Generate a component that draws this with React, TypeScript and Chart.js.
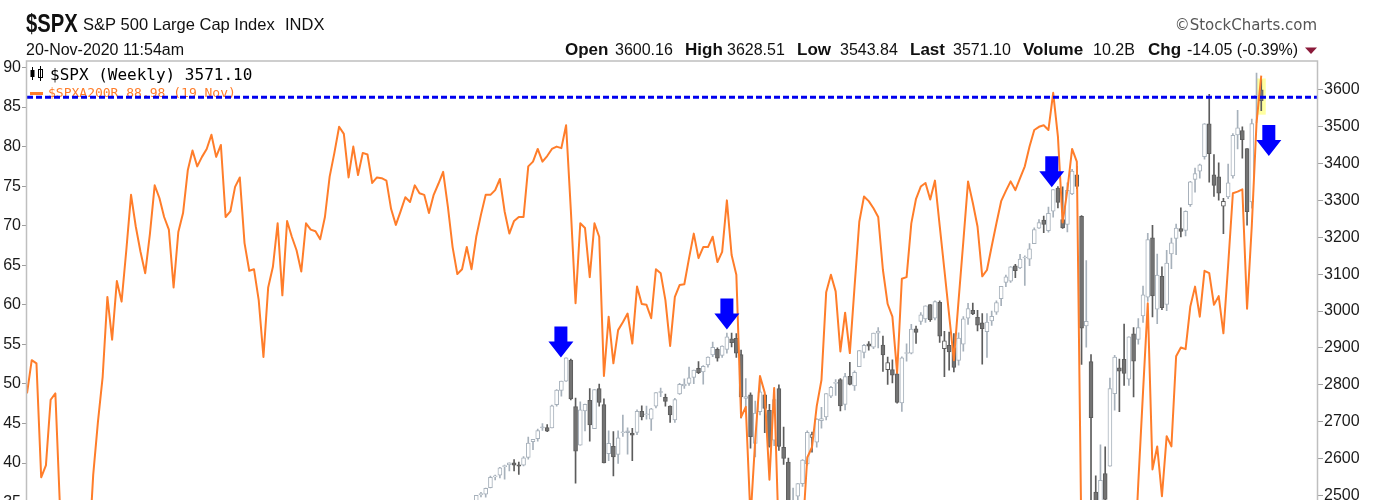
import { useEffect, useRef } from "react";
import { Chart, registerables } from "chart.js";

Chart.register(...registerables);

// ---------- categories: weekly bars, first week ending 20-Nov-2015, plus empty future slots ----------
const FIRST_WEEK = Date.UTC(2015, 10, 20);
const WEEK_SLOTS = 274;
const weekLabels: string[] = [];
for (let i = 0; i < WEEK_SLOTS; i++) {
  weekLabels.push(new Date(FIRST_WEEK + i * 7 * 86400000).toISOString().slice(0, 10));
}

// ---------- $SPXA200R (left axis), one value per week from 20-Nov-2015 ----------
const spxa200r = [
  48.8, 53, 52.6, 38.2, 39.7, 48, 48.8, 34, 27, 24,
  26, 20, 24, 28, 38.5, 45.2, 50.9, 61, 55.6, 63,
  60.4, 66.9, 73.9, 69.9, 66.7, 64, 69, 75.1, 73.5, 71.1,
  69.5, 62.2, 69.2, 71.6, 77, 79.5, 77.5, 78.7, 79.7, 81.5,
  78.7, 80.2, 71.1, 71.8, 74.9, 76.1, 67.8, 64.3, 64.5, 60.6,
  53.4, 62.2, 64.8, 70.3, 61.2, 70.6, 68.6, 66.9, 64.2, 70.3,
  69.5, 69.3, 68.3, 71.1, 76.2, 79.2, 82.5, 81.6, 76.1, 80,
  76.4, 79.2, 79, 75.4, 76.1, 76, 75.7, 72.1, 70.1, 71.8,
  73.6, 73, 75.1, 74.1, 73.9, 71.6, 73.9, 75.3, 76.8, 72.4,
  67.3, 63.9, 64.5, 67.3, 64.5, 68.6, 71.4, 73.9, 73.9, 74.5,
  75.9, 71.8, 69, 70.6, 71.1, 71.1, 77.5, 78.1, 79.7, 78.1,
  78.8, 79.7, 80, 79.8, 82.7, 72, 60.2, 70.3, 69.7, 63.5,
  70.3, 68.6, 51, 58.5, 52.6, 56.8, 57.8, 58.9, 55.1, 62.3,
  60.1, 60, 58.3, 64.5, 64, 60.6, 54.8, 61, 62.5, 62.6,
  65.9, 69, 65.9, 67.3, 67.3, 68.6, 65.4, 66.7, 73.2, 66.3,
  63.8, 45.8, 47.1, 33, 43, 51, 48.9, 37.9, 49.5, 30,
  22, 12, 15, 22, 31, 40.7, 42, 47.2, 50.5, 61.6,
  63.8, 61.7, 54.1, 59, 53.9, 62.3, 70.5, 73.7, 73.1, 72.2,
  71.1, 64.4, 60.1, 58.5, 51.4, 63.3, 63.5, 70.3, 73.4, 74.95,
  75.4, 73.3, 75.7, 70, 64.4, 58.7, 53, 60.6, 68, 75.6,
  72.9, 69.9, 63.6, 64.4, 67.4, 70.3, 73.1, 74.4, 75.6, 74.5,
  76, 77.5, 80, 82.1, 82.5, 82.7, 82.1, 86.8, 81.3, 70.4,
  74.5, 79.7, 78.1, 29, 22, 9, 2, 5, 4, 10,
  14, 13, 16, 20, 25, 37.5, 49, 60.2, 39.2, 42.1,
  35.8, 43.4, 42.1, 53.5, 54.6, 54.4, 59.8, 62.3, 58.5, 64.3,
  64, 60, 61.1, 56.4, 65, 74.1, 74.3, 74.6, 59.5, 70,
  83, 88.98,
];

// ---------- $SPX weekly candles (right axis), from week index 93 (1-Sep-2017) ----------
const CANDLE_FIRST = 93;
const spxOpen = [
  2447, 2474, 2466, 2502, 2503, 2521, 2550, 2555, 2578, 2583,
  2588, 2583, 2582, 2603, 2646, 2654, 2685, 2684, 2683, 2746,
  2785, 2810, 2867, 2741, 2636, 2729, 2758, 2681, 2790, 2746,
  2613, 2633, 2611, 2670, 2675, 2669, 2671, 2728, 2718, 2707,
  2742, 2781, 2766, 2742, 2705, 2775, 2797, 2804, 2820, 2845,
  2835, 2854, 2881, 2896, 2880, 2896, 2925, 2926, 2882, 2763,
  2773, 2641, 2727, 2773, 2731, 2650, 2790, 2630, 2590, 2400,
  2498, 2532, 2585, 2657, 2644, 2703, 2713, 2769, 2804, 2814,
  2747, 2823, 2797, 2849, 2888, 2911, 2902, 2940, 2908, 2841,
  2841, 2830, 2751, 2885, 2886, 2952, 2972, 2979, 3018, 2981,
  3024, 2898, 2907, 2901, 2866, 2910, 2981, 3002, 2983, 2968,
  2944, 2973, 2997, 3034, 3078, 3081, 3123, 3117, 3144, 3141,
  3183, 3225, 3247, 3218, 3271, 3334, 3248, 3235, 3318, 3370,
  3257, 2960, 2863, 2509, 2290, 2559, 2579, 2776, 2846, 2869,
  2815, 2938, 2923, 2987, 3038, 3199, 3005, 3094, 3018, 3155,
  3197, 3224, 3219, 3289, 3357, 3380, 3419, 3508, 3370, 3364,
  3285, 3310, 3367, 3478, 3490, 3441, 3296, 3583, 3600.16,
];
const spxHigh = [
  2480, 2474, 2500, 2508, 2520, 2552, 2555, 2576, 2582, 2588,
  2597, 2590, 2605, 2658, 2652, 2680, 2695, 2692, 2745, 2787,
  2810, 2873, 2870, 2764, 2754, 2748, 2790, 2787, 2802, 2762,
  2675, 2673, 2675, 2718, 2683, 2682, 2732, 2743, 2742, 2736,
  2779, 2791, 2775, 2743, 2763, 2804, 2816, 2848, 2840, 2863,
  2852, 2876, 2916, 2900, 2906, 2940, 2940, 2939, 2894, 2817,
  2778, 2756, 2815, 2775, 2747, 2760, 2800, 2685, 2601, 2520,
  2532, 2597, 2675, 2672, 2708, 2739, 2776, 2796, 2814, 2817,
  2831, 2861, 2838, 2893, 2910, 2917, 2940, 2955, 2932, 2875,
  2868, 2840, 2876, 2911, 2964, 2959, 2996, 3014, 3018, 3028,
  3028, 2945, 2943, 2939, 2941, 2985, 3021, 3022, 3002, 2993,
  2993, 3000, 3028, 3067, 3098, 3121, 3127, 3154, 3150, 3183,
  3226, 3248, 3258, 3282, 3330, 3338, 3337, 3348, 3385, 3393,
  3259, 3137, 2882, 2553, 2637, 2632, 2818, 2880, 2870, 2965,
  2930, 2955, 2980, 3068, 3211, 3233, 3155, 3120, 3165, 3198,
  3236, 3280, 3272, 3352, 3388, 3399, 3509, 3588, 3425, 3402,
  3306, 3399, 3482, 3545, 3500, 3441, 3521, 3646, 3628.51,
];
const spxLow = [
  2428, 2446, 2459, 2496, 2495, 2520, 2542, 2547, 2544, 2566,
  2566, 2557, 2580, 2598, 2624, 2647, 2676, 2673, 2683, 2742,
  2769, 2809, 2759, 2533, 2636, 2675, 2647, 2681, 2742, 2588,
  2594, 2553, 2587, 2660, 2612, 2594, 2665, 2705, 2707, 2676,
  2737, 2768, 2742, 2698, 2698, 2774, 2790, 2798, 2803, 2830,
  2802, 2848, 2876, 2864, 2874, 2886, 2903, 2874, 2710, 2737,
  2628, 2604, 2718, 2670, 2631, 2635, 2622, 2584, 2409, 2346,
  2444, 2524, 2582, 2617, 2631, 2682, 2705, 2765, 2771, 2729,
  2732, 2800, 2785, 2849, 2873, 2894, 2898, 2900, 2836, 2801,
  2805, 2750, 2728, 2864, 2884, 2912, 2964, 2969, 2972, 2976,
  2915, 2822, 2840, 2835, 2853, 2891, 2964, 2990, 2946, 2856,
  2874, 2961, 2991, 3015, 3066, 3078, 3091, 3115, 3070, 3123,
  3183, 3224, 3213, 3214, 3255, 3280, 3224, 3215, 3316, 3332,
  2855, 2902, 2478, 2280, 2192, 2447, 2579, 2731, 2727, 2798,
  2798, 2767, 2910, 2969, 3026, 2984, 2966, 3004, 3001, 3115,
  3153, 3201, 3204, 3284, 3323, 3361, 3412, 3350, 3311, 3301,
  3210, 3305, 3361, 3440, 3415, 3233, 3279, 3511, 3543.84,
];
const spxClose = [
  2477, 2461, 2500, 2502, 2519, 2549, 2553, 2575, 2581, 2588,
  2582, 2579, 2602, 2642, 2652, 2676, 2683, 2674, 2743, 2786,
  2810, 2873, 2762, 2620, 2732, 2747, 2691, 2787, 2752, 2588,
  2641, 2604, 2656, 2670, 2670, 2663, 2728, 2713, 2721, 2735,
  2779, 2779, 2755, 2718, 2760, 2801, 2802, 2819, 2840, 2833,
  2850, 2875, 2902, 2872, 2905, 2930, 2914, 2886, 2767, 2768,
  2659, 2723, 2781, 2736, 2633, 2760, 2633, 2600, 2417, 2486,
  2532, 2596, 2671, 2665, 2707, 2708, 2776, 2793, 2804, 2743,
  2822, 2801, 2834, 2893, 2907, 2905, 2940, 2946, 2881, 2860,
  2826, 2752, 2873, 2887, 2951, 2942, 2990, 3014, 2977, 3026,
  2932, 2919, 2889, 2847, 2927, 2979, 3007, 2992, 2962, 2952,
  2970, 2986, 3023, 3067, 3093, 3120, 3110, 3141, 3146, 3169,
  3221, 3240, 3235, 3265, 3330, 3295, 3226, 3328, 3380, 3338,
  2954, 2972, 2711, 2305, 2541, 2489, 2790, 2875, 2837, 2831,
  2930, 2864, 2955, 3044, 3194, 3041, 3098, 3009, 3130, 3185,
  3225, 3216, 3271, 3351, 3373, 3397, 3508, 3427, 3341, 3320,
  3298, 3348, 3477, 3497, 3465, 3270, 3509, 3585.15, 3571.1,
];
const lastVolume = "10.2B";
const timeStamp = "20-Nov-2020 11:54am";
const lineDateLabel = "19 Nov";

// ---------- axes ----------
const leftTicks = [35, 40, 45, 50, 55, 60, 65, 70, 75, 80, 85, 90];
const rightTicks = [2500, 2600, 2700, 2800, 2900, 3000, 3100, 3200, 3300, 3400, 3500, 3600];
const LEFT_MIN = 30.35;
const LEFT_MAX = 90.69;
const RIGHT_MIN = 2380.5;
const RIGHT_MAX = 3675.9;

// ---------- annotations ----------
const resistanceLevel = 3580;
const arrowIndex = [112.9, 148, 216.7, 262.6];
const arrowTip = [2874, 2950, 3336, 3421];

const ORANGE = "#ff7d2a";
const LIGHT = "#a7b1bb";
const DARK_STROKE = "#5c5c5c";
const DARK_FILL = "#737373";
const SANS = '"Liberation Sans", Arial, sans-serif';

function buildSeries() {
  const wick: ([number, number] | null)[] = [];
  const body: ([number, number] | null)[] = [];
  const fill: string[] = [];
  const stroke: string[] = [];
  const line: (number | null)[] = [];
  for (let i = 0; i < WEEK_SLOTS; i++) {
    line.push(i < spxa200r.length ? spxa200r[i] : null);
    const k = i - CANDLE_FIRST;
    if (k < 0 || k >= spxOpen.length) {
      wick.push(null);
      body.push(null);
      fill.push("#fff");
      stroke.push(LIGHT);
      continue;
    }
    const o = spxOpen[k];
    const c = spxClose[k];
    const prev = k > 0 ? spxClose[k - 1] : o;
    const dark = c < prev;
    const filled = c < o;
    const s = dark ? DARK_STROKE : LIGHT;
    wick.push([spxLow[k], spxHigh[k]]);
    body.push([Math.min(o, c), Math.max(o, c)]);
    stroke.push(s);
    fill.push(filled ? (dark ? DARK_FILL : "#bfc6cd") : "#ffffff");
  }
  return { wick, body, fill, stroke, line };
}

const fmt2 = (v: number) => v.toFixed(2);

const overlayPlugin = {
  id: "overlay",
  beforeDatasetsDraw(chart: any) {
    const { ctx, scales } = chart;
    const x = scales.x;
    const yR = scales.yR;
    const k = spxClose.length - 1;
    const cx = x.getPixelForValue(CANDLE_FIRST + k);
    const top = yR.getPixelForValue(spxHigh[k]) - 1;
    const bot = yR.getPixelForValue(spxLow[k]) + 4;
    ctx.save();
    ctx.fillStyle = "rgba(255,255,150,0.9)";
    ctx.fillRect(cx - 4.5, top, 9, bot - top);

    // legend (inside plot, top-left)
    ctx.fillStyle = "#000";
    ctx.fillRect(32, 67, 1, 13);
    ctx.fillRect(30.5, 70, 4, 7);
    ctx.fillRect(40, 66, 1, 15);
    ctx.strokeStyle = "#000";
    ctx.lineWidth = 1;
    ctx.strokeRect(38.5, 69.5, 4, 8);
    ctx.textBaseline = "alphabetic";
    ctx.textAlign = "left";
    ctx.font = '16px "DejaVu Sans Mono", monospace';
    ctx.fillText(`$SPX (Weekly) ${fmt2(spxClose[k])}`, 50, 80);
    ctx.fillStyle = ORANGE;
    ctx.fillRect(30, 92, 13, 3);
    ctx.font = '13px "DejaVu Sans Mono", monospace';
    ctx.fillText(`$SPXA200R ${fmt2(spxa200r[spxa200r.length - 1])} (${lineDateLabel})`, 48, 96.5);
    ctx.restore();
  },
  afterDatasetsDraw(chart: any) {
    const { ctx, chartArea, scales } = chart;
    const x = scales.x;
    const yR = scales.yR;
    ctx.save();
    // dashed resistance line
    const ly = yR.getPixelForValue(resistanceLevel);
    ctx.strokeStyle = "#0000ee";
    ctx.lineWidth = 3;
    ctx.setLineDash([6, 3]);
    ctx.beginPath();
    ctx.moveTo(chartArea.left, ly);
    ctx.lineTo(chartArea.right, ly);
    ctx.stroke();
    ctx.setLineDash([]);
    // down arrows
    ctx.fillStyle = "#0000ff";
    arrowIndex.forEach((idx, n) => {
      const cx = x.getPixelForValue(idx);
      const ty = yR.getPixelForValue(arrowTip[n]);
      ctx.beginPath();
      ctx.moveTo(cx - 6.5, ty - 31);
      ctx.lineTo(cx + 6.5, ty - 31);
      ctx.lineTo(cx + 6.5, ty - 16);
      ctx.lineTo(cx + 12.5, ty - 16);
      ctx.lineTo(cx, ty);
      ctx.lineTo(cx - 12.5, ty - 16);
      ctx.lineTo(cx - 6.5, ty - 16);
      ctx.closePath();
      ctx.fill();
    });
    ctx.restore();
  },
  afterDraw(chart: any) {
    const { ctx, chartArea } = chart;
    ctx.save();
    // plot border
    ctx.strokeStyle = "#bfbfbf";
    ctx.lineWidth = 1.5;
    ctx.strokeRect(chartArea.left - 0.5, chartArea.top - 1, chartArea.right - chartArea.left, chartArea.bottom - chartArea.top + 1);

    // header
    ctx.textBaseline = "alphabetic";
    ctx.textAlign = "left";
    ctx.fillStyle = "#111";
    ctx.save();
    ctx.translate(26, 32);
    ctx.scale(0.81, 1);
    ctx.font = `bold 25px ${SANS}`;
    ctx.fillText("$SPX", 0, 0);
    ctx.restore();
    ctx.font = `16.5px ${SANS}`;
    ctx.fillText("S&P 500 Large Cap Index", 83, 30);
    ctx.fillText("INDX", 285, 30);
    ctx.font = `16px ${SANS}`;
    ctx.fillText(timeStamp, 26, 55);

    const k = spxClose.length - 1;
    const chg = spxClose[k] - spxClose[k - 1];
    const pct = (chg / spxClose[k - 1]) * 100;
    const items: [string, string, number, number][] = [
      ["Open", fmt2(spxOpen[k]), 565, 615],
      ["High", fmt2(spxHigh[k]), 685, 727],
      ["Low", fmt2(spxLow[k]), 797, 840],
      ["Last", fmt2(spxClose[k]), 910, 953],
      ["Volume", lastVolume, 1023, 1093],
      ["Chg", `${chg.toFixed(2)} (${pct.toFixed(2)}%)`, 1148, 1187],
    ];
    items.forEach(([lab, val, lx, vx]) => {
      ctx.font = `bold 17px ${SANS}`;
      ctx.fillText(lab, lx, 55);
      ctx.font = `16px ${SANS}`;
      ctx.fillText(val, vx, 55);
    });
    ctx.fillStyle = "#8b1a3a";
    ctx.beginPath();
    ctx.moveTo(1305, 47.5);
    ctx.lineTo(1317, 47.5);
    ctx.lineTo(1311, 54);
    ctx.closePath();
    ctx.fill();

    ctx.fillStyle = "#555";
    ctx.textAlign = "right";
    ctx.font = '15px "DejaVu Sans", sans-serif';
    ctx.fillText("\u00A9StockCharts.com", 1317, 29.5);
    ctx.restore();
  },
};

export default function App() {
  const ref = useRef<HTMLCanvasElement | null>(null);
  useEffect(() => {
    const canvas = ref.current;
    if (!canvas) return;
    const s = buildSeries();
    const yCommon = (ticksList: number[], width: number) => ({
      afterBuildTicks: (scale: any) => {
        scale.ticks = ticksList.map((v) => ({ value: v }));
      },
      afterFit: (scale: any) => {
        scale.width = width;
      },
      ticks: {
        font: { family: SANS, size: 16 },
        color: "#1a1a1a",
        padding: 1,
        autoSkip: false,
        callback: (v: any) => String(v),
      },
      grid: { drawOnChartArea: false, drawTicks: true, tickLength: 5, color: "#9e9e9e" },
      border: { display: false },
    });
    const chart = new Chart(canvas, {
      type: "bar",
      data: {
        labels: weekLabels,
        datasets: [
          {
            type: "line",
            label: "$SPXA200R",
            data: s.line,
            yAxisID: "yL",
            borderColor: ORANGE,
            borderWidth: 2,
            borderJoinStyle: "round",
            pointRadius: 0,
            tension: 0,
            fill: false,
            order: 0,
          } as any,
          {
            type: "bar",
            label: "bodies",
            data: s.body as any,
            yAxisID: "yR",
            backgroundColor: s.fill,
            borderColor: s.stroke,
            borderWidth: 1,
            borderSkipped: false,
            barThickness: 4,
            minBarLength: 1,
            grouped: false,
            order: 1,
          } as any,
          {
            type: "bar",
            label: "wicks",
            data: s.wick as any,
            yAxisID: "yR",
            backgroundColor: s.stroke,
            borderWidth: 0,
            barThickness: 1,
            grouped: false,
            order: 2,
          } as any,
        ],
      },
      options: {
        responsive: false,
        animation: false,
        devicePixelRatio: 1,
        events: [],
        layout: { padding: { top: 62, bottom: 10, left: 0, right: 0 } },
        plugins: { legend: { display: false }, tooltip: { enabled: false } },
        scales: {
          x: { type: "category", display: false, offset: false, grid: { display: false } },
          yL: { type: "linear", position: "left", min: LEFT_MIN, max: LEFT_MAX, ...yCommon(leftTicks, 27) } as any,
          yR: { type: "linear", position: "right", min: RIGHT_MIN, max: RIGHT_MAX, ...yCommon(rightTicks, 57) } as any,
        },
      },
      plugins: [overlayPlugin],
    });
    return () => chart.destroy();
  }, []);
  return (
    <div style={{ position: "absolute", left: 0, top: 0, width: 1375, height: 500, overflow: "hidden", background: "#fff" }}>
      <canvas ref={ref} width={1375} height={550} style={{ display: "block", width: 1375, height: 550 }} />
    </div>
  );
}
